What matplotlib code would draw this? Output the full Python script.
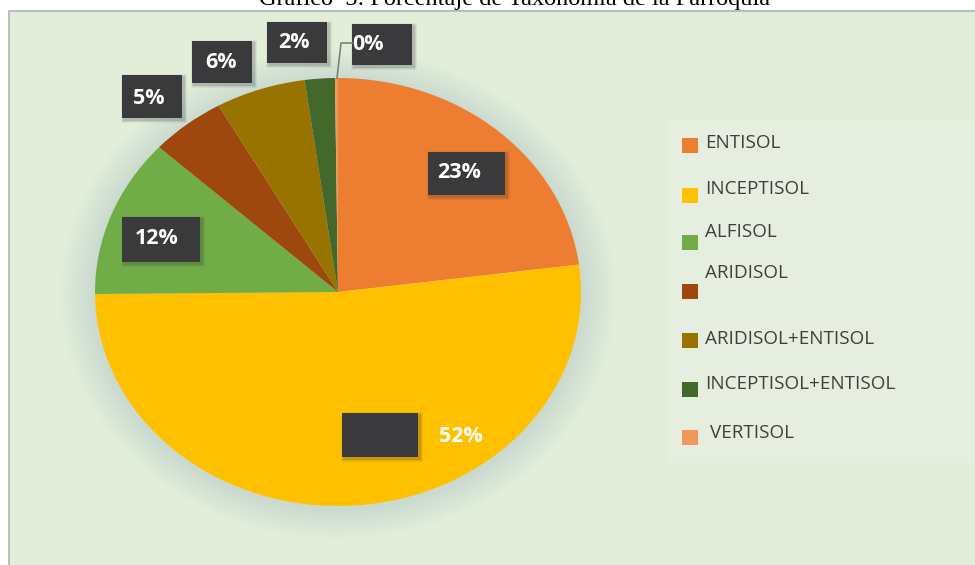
import matplotlib
matplotlib.use("Agg")
import matplotlib.pyplot as plt
from matplotlib.patches import Rectangle, Ellipse

W, H = 975, 565

# data
soils = ["ENTISOL", "INCEPTISOL", "ALFISOL", "ARIDISOL",
         "ARIDISOL+ENTISOL", "INCEPTISOL+ENTISOL", "VERTISOL"]
shares = [23, 52, 12, 5, 6, 2, 0.2]
pct_labels = ["23%", "52%", "12%", "5%", "6%", "2%", "0%"]
colors = ["#ED7D31", "#FFC000", "#70AD47", "#9E480E",
          "#997300", "#43682B", "#F1975A"]

# layout of label boxes (pixel coords: x0, y0, w, h) and text centers
boxes = [(428, 152, 77, 43), (342, 413, 76, 44), (122, 217, 78, 45),
         (122, 75, 60, 43), (192, 41, 60, 42), (267, 22, 60, 41), (352, 24, 60, 41)]
txt_pos = [(459, 173), (461, 436), (157, 238), (149, 98), (221, 63), (294, 43), (368, 44)]
leg_sq_y = [145, 195, 242, 291, 340, 389, 437]
leg_tx_y = [143, 189, 232, 273, 339, 384, 433]
leg_tx_x = [705, 705, 705, 705, 705, 705, 710]

fig = plt.figure(figsize=(W / 100, H / 100), dpi=100)
fig.patch.set_facecolor("white")

# background panel in pixel coords
bg = fig.add_axes([0, 0, 1, 1])
bg.set_xlim(0, W); bg.set_ylim(H, 0); bg.axis("off")
bg.add_patch(Rectangle((8, 10), W - 8, H - 10, facecolor="#E2EED9", edgecolor="none"))
bg.plot([8.5, 8.5, W], [H, 10.5, 10.5], color="#BDBDBD", lw=1.5)
bg.add_patch(Rectangle((667, 120), 306, 342, facecolor="#E6EEE0", edgecolor="none"))

# pie (elliptical)
px0, px1, py0, py1 = 95, 581, 78, 506
ax = fig.add_axes([px0 / W, (H - py1) / H, (px1 - px0) / W, (py1 - py0) / H])
for k in range(10):
    s = 2.0 + 0.028 * (10 - k)
    ax.add_patch(Ellipse((0, -0.01), s, s, facecolor="#A7BFC3", alpha=0.04,
                         edgecolor="none", clip_on=False))
ax.pie(shares, colors=colors, startangle=90, counterclock=False, radius=1,
       wedgeprops=dict(edgecolor="none"))
ax.set_aspect("auto")
ax.set_xlim(-1, 1); ax.set_ylim(-1, 1)
ax.axis("off")

# overlay for labels and legend
ov = fig.add_axes([0, 0, 1, 1])
ov.set_xlim(0, W); ov.set_ylim(H, 0); ov.axis("off")
ov.patch.set_alpha(0)

for (x0, y0, bw, bh), (tx, ty), lab in zip(boxes, txt_pos, pct_labels):
    for d, a in [(6, 0.06), (4, 0.09), (2, 0.14)]:
        ov.add_patch(Rectangle((x0 + 2 - d / 2, y0 + 2 - d / 2), bw + d, bh + d,
                               facecolor="#303030", alpha=a, edgecolor="none"))
    ov.add_patch(Rectangle((x0, y0), bw, bh, facecolor="#3A3A3C", edgecolor="none"))
    ov.text(tx, ty, lab, color="white", fontsize=15.5, fontweight="bold",
            family="Open Sans", ha="center", va="center")

# leader line for 0%
ov.plot([352, 341, 337], [43, 43, 78], color="#7F7F7F", lw=1.2)

for name, c, sy, ty, tx in zip(soils, colors, leg_sq_y, leg_tx_y, leg_tx_x):
    ov.add_patch(Rectangle((682, sy - 7.5), 16, 15, facecolor=c, edgecolor="none"))
    ov.text(tx, ty, name, color="#404040", fontsize=13.6, family="Open Sans",
            ha="left", va="center")

fig.text(0.528, 1 - 5 / H, "Gráfico  5: Porcentaje de Taxonomía de la Parroquia",
         family="Liberation Serif", fontsize=17.5, ha="center", va="baseline")

fig.savefig("out.png", dpi=100)
